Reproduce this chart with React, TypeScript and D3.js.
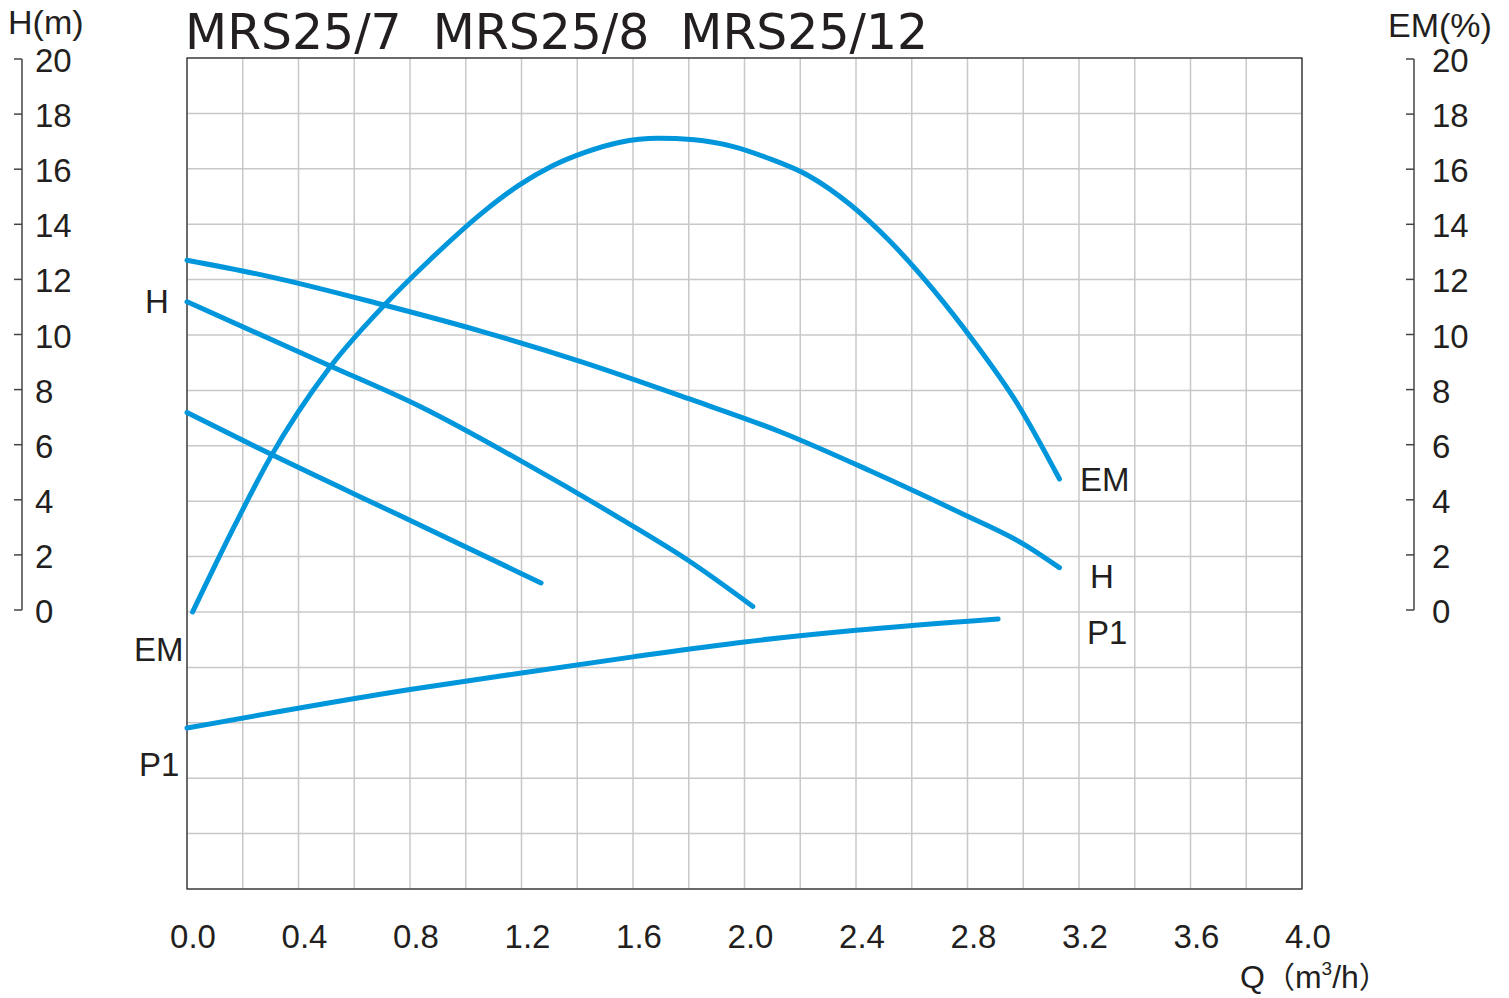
import React from 'react';
import * as d3 from 'd3';

// Q (m3/h) vs H (m) / EM (%) / P1 readings
const emQ = [0.02, 0.17, 0.3, 0.51, 0.71, 0.87, 1.07, 1.19, 1.31, 1.43, 1.55, 1.69, 1.82, 1.96, 2.08, 2.23, 2.38, 2.52, 2.68, 2.82, 2.98, 3.13];
const emVal = [0, 3.1, 5.6, 8.8, 11.1, 12.7, 14.5, 15.4, 16.1, 16.6, 16.95, 17.1, 17.05, 16.8, 16.4, 15.75, 14.7, 13.4, 11.6, 9.8, 7.5, 4.8];

const h12Q = [0, 0.3, 0.7, 1.05, 1.41, 1.8, 2.13, 2.45, 2.77, 3.01, 3.13];
const h12Val = [12.7, 12.1, 11.1, 10.15, 9.05, 7.7, 6.5, 5.1, 3.6, 2.4, 1.6];

const h8Q = [0, 0.51, 0.84, 1.19, 1.55, 1.8, 2.03];
const h8Val = [11.2, 8.9, 7.4, 5.5, 3.4, 1.85, 0.2];

const h7Q = [0, 0.3, 0.76, 1.27];
const h7Val = [7.2, 5.7, 3.5, 1.05];

const p1Q = [0, 0.8, 1.2, 1.6, 2.0, 2.4, 2.91];
const p1Val = [-4.19, -2.8, -2.2, -1.62, -1.08, -0.66, -0.25];

const xTicks = [0, 0.4, 0.8, 1.2, 1.6, 2.0, 2.4, 2.8, 3.2, 3.6, 4.0];
const yTicks = [0, 2, 4, 6, 8, 10, 12, 14, 16, 18, 20];

const W = 1509;
const H = 998;
const blue = '#0096dc';
const ink = '#231f20';
const font = '"Liberation Sans", Arial, sans-serif';

const App: React.FC = () => {
  const x = d3.scaleLinear().domain([0, 4]).range([187, 1302]);
  const y = d3.scaleLinear().domain([-10, 20]).range([889, 58]);
  const yAxis = d3.scaleLinear().domain([0, 20]).range([610, 59]);

  const line = d3
    .line<[number, number]>()
    .x((d) => x(d[0]))
    .y((d) => y(d[1]))
    .curve(d3.curveMonotoneX);

  const zip = (a: number[], b: number[]) => a.map((v, i) => [v, b[i]] as [number, number]);
  const curves = [
    zip(emQ, emVal),
    zip(h12Q, h12Val),
    zip(h8Q, h8Val),
    zip(h7Q, h7Val),
    zip(p1Q, p1Val),
  ];

  const vGrid = d3.range(0, 4.0001, 0.2);
  const hGrid = d3.range(-10, 20.0001, 2);

  return (
    <svg width={W} height={H} style={{ position: 'absolute', left: 0, top: 0, background: '#fff' }}>
      <rect width={W} height={H} fill="#fff" />
      {/* grid */}
      {vGrid.map((v, i) => (
        <line key={'v' + i} x1={x(v)} x2={x(v)} y1={y(20)} y2={y(-10)} stroke="#c8c8c8" strokeWidth={1.5} />
      ))}
      {hGrid.map((v, i) => (
        <line key={'h' + i} x1={x(0)} x2={x(4)} y1={y(v)} y2={y(v)} stroke="#c8c8c8" strokeWidth={1.5} />
      ))}
      <rect x={x(0)} y={y(20)} width={x(4) - x(0)} height={y(-10) - y(20)} fill="none" stroke="#222" strokeWidth={1.2} />

      {/* left axis */}
      <line x1={22} x2={22} y1={yAxis(20)} y2={yAxis(0)} stroke="#444" strokeWidth={1.5} />
      {yTicks.map((t) => (
        <g key={'l' + t}>
          <line x1={14} x2={22} y1={yAxis(t)} y2={yAxis(t)} stroke="#444" strokeWidth={1.5} />
          <text x={35} y={yAxis(t) + 13} fontSize={33} fontFamily={font} fill={ink}>{t}</text>
        </g>
      ))}
      <text x={8} y={34} fontSize={34} fontFamily={font} fill={ink}>H(m)</text>

      {/* right axis */}
      <line x1={1414} x2={1414} y1={yAxis(20)} y2={yAxis(0)} stroke="#444" strokeWidth={1.5} />
      {yTicks.map((t) => (
        <g key={'r' + t}>
          <line x1={1406} x2={1414} y1={yAxis(t)} y2={yAxis(t)} stroke="#444" strokeWidth={1.5} />
          <text x={1432} y={yAxis(t) + 13} fontSize={33} fontFamily={font} fill={ink}>{t}</text>
        </g>
      ))}
      <text x={1388} y={37} fontSize={34} fontFamily={font} fill={ink}>EM(%)</text>

      {/* x axis labels */}
      {xTicks.map((t) => (
        <text key={'x' + t} x={x(t) + 6} y={948} textAnchor="middle" fontSize={33} fontFamily={font} fill={ink}>
          {t.toFixed(1)}
        </text>
      ))}
      <text x={1240} y={988} fontSize={32} fontFamily={font} fill={ink}>
        Q<tspan fontFamily='"Noto Sans CJK SC", sans-serif' fontSize={30}>（</tspan>m<tspan dy={-13} fontSize={19}>3</tspan><tspan dy={13}>/h</tspan><tspan fontFamily='"Noto Sans CJK SC", sans-serif' fontSize={30}>）</tspan>
      </text>

      {/* title */}
      <text x={185} y={49} fontSize={50} fontFamily='"DejaVu Sans Condensed", "Liberation Sans Narrow", sans-serif' fill={ink} textLength={743} lengthAdjust="spacingAndGlyphs" style={{ whiteSpace: 'pre' }}>
        {'MRS25/7  MRS25/8  MRS25/12'}
      </text>

      {/* curves */}
      {curves.map((c, i) => (
        <path key={'c' + i} d={line(c) || ''} fill="none" stroke={blue} strokeWidth={5} strokeLinecap="round" strokeLinejoin="round" />
      ))}

      {/* curve labels */}
      <text x={145} y={313} fontSize={33} fontFamily={font} fill={ink}>H</text>
      <text x={134} y={661} fontSize={33} fontFamily={font} fill={ink}>EM</text>
      <text x={139} y={776} fontSize={33} fontFamily={font} fill={ink}>P1</text>
      <text x={1080} y={491} fontSize={33} fontFamily={font} fill={ink}>EM</text>
      <text x={1090} y={588} fontSize={33} fontFamily={font} fill={ink}>H</text>
      <text x={1087} y={644} fontSize={33} fontFamily={font} fill={ink}>P1</text>
    </svg>
  );
};

export default App;
